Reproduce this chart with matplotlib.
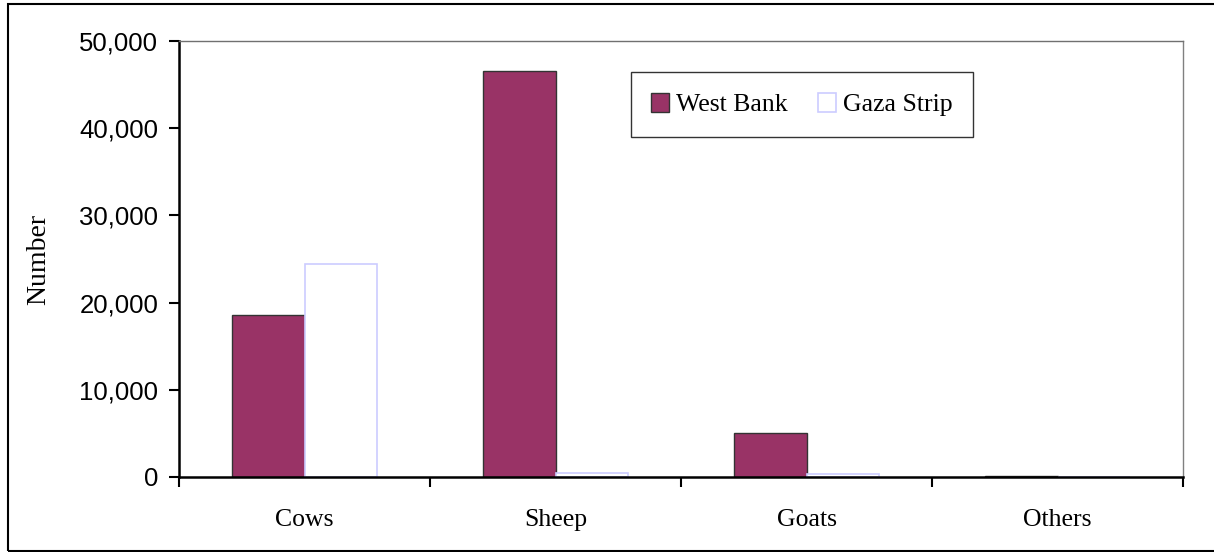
import numpy as np
import matplotlib
matplotlib.use("Agg")
import matplotlib.pyplot as plt
from matplotlib.patches import Rectangle
from matplotlib.ticker import FuncFormatter, FixedLocator

categories = ["Cows", "Sheep", "Goats", "Others"]
west_bank = [18600, 46600, 5000, 150]
gaza_strip = [24400, 420, 400, 30]
y_ticks = [0, 10000, 20000, 30000, 40000, 50000]

fig = plt.figure(figsize=(12.14, 5.52), dpi=100)
ax = fig.add_axes([179 / 1214, 75 / 552, 1004 / 1214, 436 / 552])

x = np.arange(len(categories))
w = 0.287
ax.bar(x - w / 2, west_bank, w, color="#993366", edgecolor="#333333",
       linewidth=1.0, label="West Bank")
ax.bar(x + w / 2, gaza_strip, w, color="white", edgecolor="#ccccff",
       linewidth=1.2, label="Gaza Strip")

ax.set_xlim(-0.5, len(categories) - 0.5)
ax.set_ylim(0, 50000)
ax.set_yticks(y_ticks)
ax.yaxis.set_major_formatter(FuncFormatter(lambda v, p: f"{int(v):,}"))

ax.set_xticks(x)
ax.set_xticklabels(categories, fontfamily="Liberation Serif", fontsize=18.5)
ax.xaxis.set_minor_locator(FixedLocator(np.arange(len(categories) + 1) - 0.5))
ax.tick_params(axis="x", which="major", length=0, pad=23)
ax.tick_params(axis="x", which="minor", length=7, width=1.5, direction="out")
ax.tick_params(axis="y", length=7, width=1.5, direction="out", pad=8,
               labelsize=18.5)
for lab in ax.get_yticklabels():
    lab.set_fontfamily("Liberation Sans")

ax.spines["left"].set_linewidth(1.8)
ax.spines["bottom"].set_linewidth(1.8)
ax.spines["top"].set_color("#707070")
ax.spines["right"].set_color("#808080")
ax.spines["top"].set_linewidth(1.0)
ax.spines["right"].set_linewidth(1.0)

ax.set_ylabel("Number", fontfamily="Liberation Serif", fontsize=20, labelpad=20)

leg = ax.legend(loc="upper left", bbox_to_anchor=(0.450, 0.929), ncol=2,
                frameon=True, fancybox=False, prop={"family": "Liberation Serif", "size": 18.5},
                handlelength=0.7, handleheight=0.8, handletextpad=0.25,
                columnspacing=1.2, borderpad=0.8, borderaxespad=0)
leg.get_frame().set_edgecolor("black")
leg.get_frame().set_linewidth(1.0)

fig.patches.append(Rectangle((8 / 1214, 1 / 552), 1.0, 547 / 552,
                             transform=fig.transFigure, fill=False,
                             edgecolor="black", linewidth=1.5))

fig.savefig("out.png", dpi=100)
